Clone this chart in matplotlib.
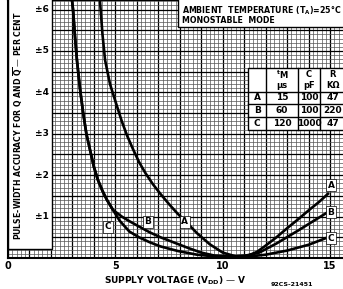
import matplotlib
matplotlib.use("Agg")
import matplotlib.pyplot as plt
from matplotlib.patches import Rectangle
from matplotlib.ticker import MultipleLocator

# curve data: supply voltage (V) vs accuracy (per cent)
a_volts = [4.28, 4.4, 4.52, 4.75, 4.98, 5.3, 5.55, 5.82, 6.1, 6.4, 6.75, 7.08, 7.5, 7.9, 8.24, 8.8,
           9.4, 10.0, 10.6, 11.2, 11.6, 12.0, 12.5, 13.0, 13.5, 14.0, 14.5, 14.9]
a_pct = [6.23, 5.4, 4.78, 4.2, 3.82, 3.3, 2.95, 2.63, 2.32, 2.05, 1.78, 1.56, 1.3, 1.07, 0.9, 0.6,
         0.33, 0.13, 0.04, 0.06, 0.15, 0.3, 0.5, 0.72, 0.93, 1.15, 1.36, 1.55]

b_volts = [2.98, 3.03, 3.12, 3.21, 3.35, 3.5, 3.65, 3.82, 4.0, 4.19, 4.4, 4.61, 4.89, 5.3, 5.65, 6.1,
           6.6, 7.1, 7.6, 8.4, 9.0, 9.6, 10.3, 11.0, 11.7, 12.5, 13.5, 14.9]
b_pct = [6.23, 5.99, 5.35, 4.78, 4.1, 3.5, 3.0, 2.61, 2.2, 1.88, 1.62, 1.4, 1.16, 1.0, 0.89, 0.76,
         0.62, 0.5, 0.4, 0.24, 0.13, 0.06, 0.04, 0.05, 0.13, 0.35, 0.66, 1.11]

c_volts = [2.98, 3.03, 3.12, 3.21, 3.35, 3.5, 3.65, 3.82, 4.0, 4.19, 4.4, 4.61, 4.89, 5.2, 5.65, 6.1,
           6.6, 7.1, 7.9, 8.8, 9.6, 10.5, 11.3, 12.0, 13.0, 14.0, 14.9]
c_pct = [6.23, 5.99, 5.35, 4.78, 4.1, 3.5, 3.0, 2.61, 2.2, 1.88, 1.62, 1.4, 1.16, 0.9, 0.64, 0.5,
         0.38, 0.28, 0.17, 0.08, 0.04, 0.03, 0.04, 0.08, 0.18, 0.32, 0.5]

x_ticks = [0, 5, 10, 15]
y_ticks = [1, 2, 3, 4, 5, 6]

table_rows = ["A", "B", "C"]
table_tm = ["15", "60", "120"]
table_c = ["100", "100", "1000"]
table_r = ["47", "220", "47"]

bold = dict(fontweight="bold", family=["Liberation Sans Narrow", "DejaVu Sans"])

fig = plt.figure(figsize=(3.43, 2.89), dpi=100)
ax = fig.add_axes([8 / 343, 31 / 289, 335 / 343, 258 / 289])
ax.set_xlim(0, 15.6)
ax.set_ylim(0, 6.23)

# dense graph-paper grid
ax.xaxis.set_major_locator(MultipleLocator(1))
ax.xaxis.set_minor_locator(MultipleLocator(0.2))
ax.yaxis.set_major_locator(MultipleLocator(0.5))
ax.yaxis.set_minor_locator(MultipleLocator(0.1))
ax.grid(which="major", color="black", lw=0.9, zorder=1)
ax.grid(which="minor", color="#555555", lw=0.5, zorder=1)
ax.tick_params(which="both", length=0)
ax.set_yticklabels([])
ax.set_xticklabels([str(int(t)) if t in x_ticks else "" for t in ax.get_xticks()],
                   fontsize=7, fontweight="bold")
ax.tick_params(axis="x", pad=2)
for s in ax.spines.values():
    s.set_linewidth(1.5)
ax.spines["right"].set_visible(False)

# white panel holding the y label
ax.add_patch(Rectangle((0, 0.22), 2.05, 7, facecolor="white", edgecolor="black", lw=1.0, zorder=3))
ax.text(0.45, 3.2, r"PULSE-WIDTH ACCURACY FOR Q AND $\overline{\mathbf{Q}}$ — PER CENT",
        rotation=90, ha="center", va="center", fontsize=5.6, zorder=5, **bold)
for t in y_ticks:
    ax.text(1.92, t, "±%d" % t, ha="right", va="center", fontsize=6.5, zorder=5, **bold)

# conditions box
ax.add_patch(Rectangle((7.92, 5.58), 9, 2, facecolor="white", edgecolor="black", lw=1.0, zorder=3))
ax.text(8.1, 5.96, "AMBIENT  TEMPERATURE (T$_\\mathbf{A}$)=25°C", fontsize=5.7, va="center", zorder=5, **bold)
ax.text(8.1, 5.73, "MONOSTABLE  MODE", fontsize=5.7, va="center", zorder=5, **bold)

# component table
cols = [11.18, 12.02, 13.51, 14.53, 16.2]
rows = [4.59, 4.01, 3.72, 3.41, 3.09]
ax.add_patch(Rectangle((cols[0], rows[-1]), cols[-1] - cols[0], rows[0] - rows[-1],
                       facecolor="white", edgecolor="black", lw=1.0, zorder=3))
for cx in cols[1:-1]:
    ax.plot([cx, cx], [rows[-1], rows[0]], color="black", lw=1.0, zorder=4)
for ry in rows[1:-1]:
    ax.plot([cols[0], cols[-1]], [ry, ry], color="black", lw=1.0, zorder=4)
mids = [(cols[i] + cols[i + 1]) / 2 for i in range(3)] + [15.12]
ax.text(mids[1], 4.42, r"$^{\mathbf{t}}$M", ha="center", va="center", fontsize=6, zorder=5, **bold)
ax.text(mids[1], 4.17, "µs", ha="center", va="center", fontsize=6, zorder=5, **bold)
ax.text(mids[2], 4.42, "C", ha="center", va="center", fontsize=6, zorder=5, **bold)
ax.text(mids[2], 4.17, "pF", ha="center", va="center", fontsize=6, zorder=5, **bold)
ax.text(mids[3], 4.42, "R", ha="center", va="center", fontsize=6, zorder=5, **bold)
ax.text(mids[3], 4.17, "KΩ", ha="center", va="center", fontsize=6, zorder=5, **bold)
for i, name in enumerate(table_rows):
    yc = (rows[i + 1] + rows[i + 2]) / 2
    for j, val in enumerate([name, table_tm[i], table_c[i], table_r[i]]):
        ax.text(mids[j], yc, val, ha="center", va="center", fontsize=6.5, zorder=5, **bold)

# curves
for xs, ys in [(a_volts, a_pct), (b_volts, b_pct), (c_volts, c_pct)]:
    ax.plot(xs, ys, color="black", lw=1.9, solid_joinstyle="round", zorder=4)

box = dict(boxstyle="square,pad=0.15", facecolor="white", edgecolor="black", lw=0.5)
for lbl, x, y in [("A", 15.04, 1.76), ("B", 15.04, 1.11), ("C", 15.04, 0.48),
                  ("C", 4.66, 0.75), ("B", 6.52, 0.87), ("A", 8.24, 0.87)]:
    ax.text(x, y, lbl, ha="center", va="center", fontsize=6.5, bbox=box, zorder=6, **bold)

fig.text(175 / 343, 1 - 281 / 289, "SUPPLY VOLTAGE (V$_\\mathbf{DD}$) — V", ha="center", va="center",
         fontsize=6.5, **bold)
fig.text(292 / 343, 1 - 284 / 289, "92CS-21451", ha="center", va="center", fontsize=4.5, **bold)

fig.savefig("out.png", dpi=100)
